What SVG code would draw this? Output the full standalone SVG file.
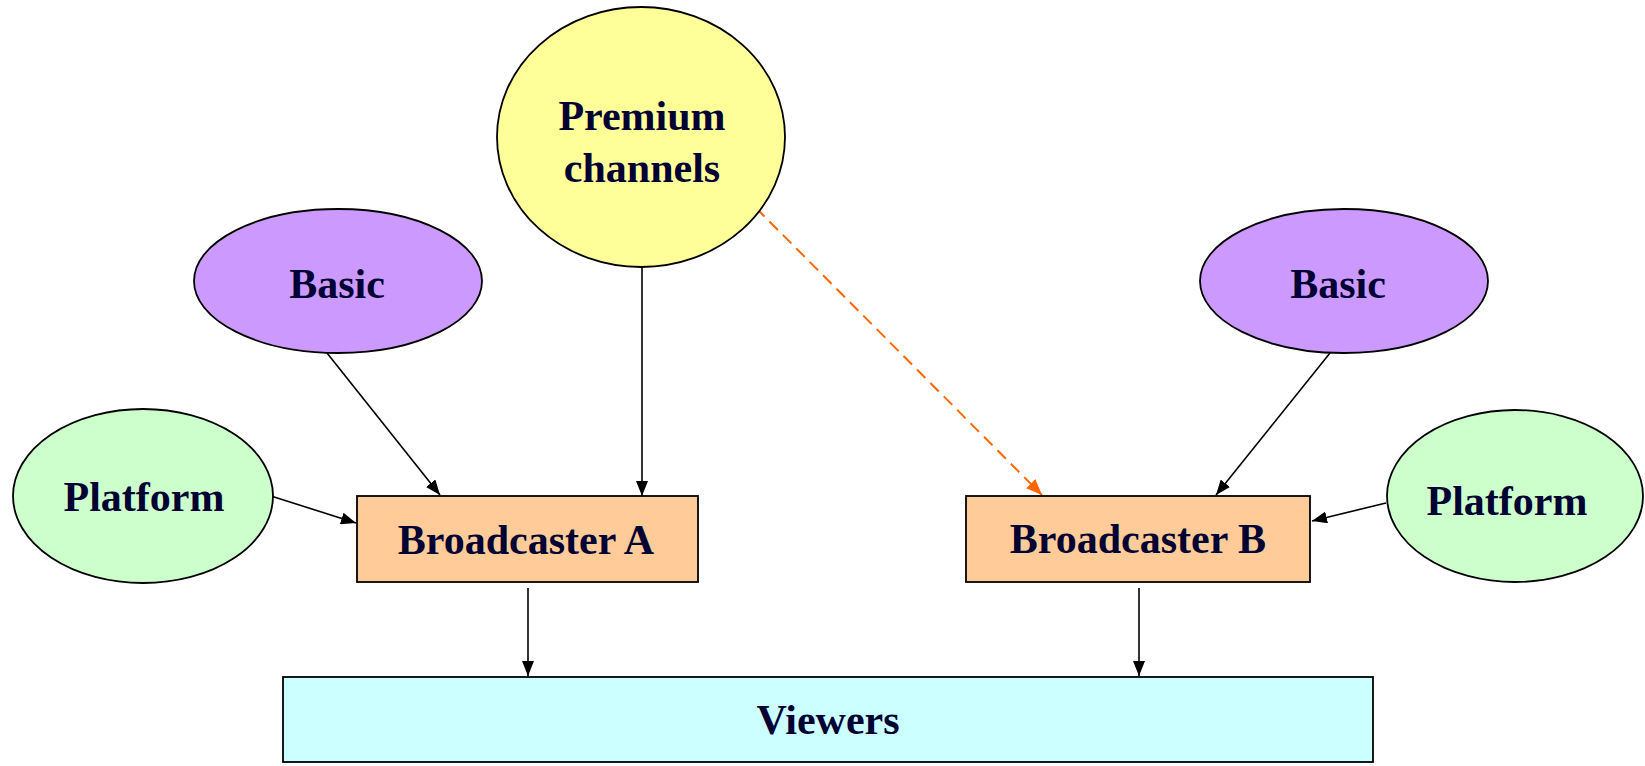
<svg xmlns="http://www.w3.org/2000/svg" width="1645" height="766" viewBox="0 0 1645 766">
<defs>
<style>
.lbl{font-family:"Liberation Serif","Times New Roman",serif;font-weight:bold;font-size:42px;fill:#000033;text-anchor:middle}
.shape{stroke:#000;stroke-width:1.8}
.edge{stroke:#000;stroke-width:1.6;fill:none}
.dash{stroke:#FF6600;stroke-width:2;fill:none;stroke-dasharray:12 7}
</style>
<marker id="ah" markerUnits="userSpaceOnUse" markerWidth="15" markerHeight="12" refX="15" refY="6" orient="auto">
<path d="M0,0 L15,6 L0,12 z" fill="#000"/>
</marker>
<marker id="aho" markerUnits="userSpaceOnUse" markerWidth="16" markerHeight="13" refX="16" refY="6.5" orient="auto">
<path d="M0,0 L16,6.5 L0,13 z" fill="#FF6600"/>
</marker>
</defs>
<rect width="1645" height="766" fill="#fff"/>
<g id="connectors">
<line class="edge" x1="642" y1="267" x2="642" y2="496" marker-end="url(#ah)"/>
<line class="edge" x1="327" y1="353" x2="440" y2="495" marker-end="url(#ah)"/>
<line class="edge" x1="271" y1="496" x2="356" y2="523" marker-end="url(#ah)"/>
<line class="edge" x1="1330" y1="353" x2="1216" y2="495" marker-end="url(#ah)"/>
<line class="edge" x1="1386" y1="503" x2="1312" y2="521" marker-end="url(#ah)"/>
<line class="edge" x1="528" y1="588" x2="528" y2="676" marker-end="url(#ah)"/>
<line class="edge" x1="1139" y1="588" x2="1139" y2="676" marker-end="url(#ah)"/>
<line class="dash" x1="756" y1="208" x2="1042" y2="495" marker-end="url(#aho)"/>
</g>
<g id="premium">
<ellipse class="shape" cx="641" cy="137" rx="144" ry="130" fill="#FFFF99"/>
<text class="lbl" x="642" y="130">Premium</text>
<text class="lbl" x="642" y="182">channels</text>
</g>
<g id="basic-a">
<ellipse class="shape" cx="338" cy="281" rx="144" ry="72" fill="#CC99FF"/>
<text class="lbl" x="337" y="298">Basic</text>
</g>
<g id="platform-a">
<ellipse class="shape" cx="143" cy="496" rx="130" ry="87" fill="#CCFFCC"/>
<text class="lbl" x="144" y="511">Platform</text>
</g>
<g id="broadcaster-a">
<rect class="shape" x="357" y="496" width="341" height="86" fill="#FFCC99"/>
<text class="lbl" x="526" y="554">Broadcaster A</text>
</g>
<g id="basic-b">
<ellipse class="shape" cx="1344" cy="281" rx="144" ry="72" fill="#CC99FF"/>
<text class="lbl" x="1338" y="298">Basic</text>
</g>
<g id="platform-b">
<ellipse class="shape" cx="1515" cy="496" rx="128" ry="86" fill="#CCFFCC"/>
<text class="lbl" x="1507" y="515">Platform</text>
</g>
<g id="broadcaster-b">
<rect class="shape" x="966" y="496" width="344" height="86" fill="#FFCC99"/>
<text class="lbl" x="1138" y="553">Broadcaster B</text>
</g>
<g id="viewers">
<rect class="shape" x="283" y="677" width="1090" height="85" fill="#CCFFFF"/>
<text class="lbl" x="828" y="734">Viewers</text>
</g>
</svg>
